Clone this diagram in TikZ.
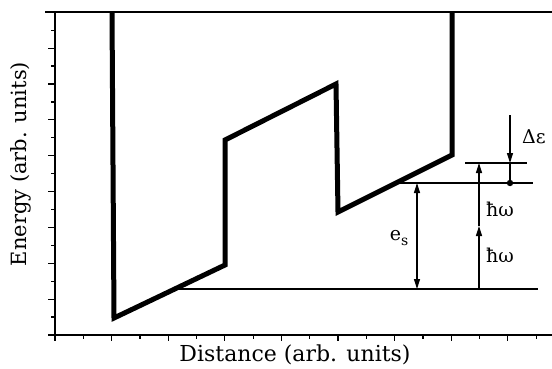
\documentclass[tikz,border=0pt]{standalone}
\usepackage{fontspec}
\setmainfont{DejaVu Serif}
\usetikzlibrary{arrows.meta}
\begin{document}
\begin{tikzpicture}[x=1pt,y=-1pt,
  pot/.style={line width=5pt, line join=miter},
  thin/.style={line width=1.2pt},
  arr/.style={-{Triangle[length=10pt,width=6pt]}},
  darr/.style={{Triangle[length=10pt,width=6pt]}-{Triangle[length=10pt,width=6pt]}},
  lbl/.style={inner sep=0pt, font=\fontsize{19}{22}\selectfont},
  axl/.style={inner sep=0pt, font=\fontsize{22}{26}\selectfont}]
\useasboundingbox (0,0) rectangle (552,368);
% frame and axes
\draw[thin] (45,12) -- (552,12);
\draw[thin] (55,12) -- (55,340);
\draw[thin] (50,335) -- (552,335);
\foreach \k in {0,...,18}{
  \pgfmathsetmacro\yy{335-17.93*\k}
  \pgfmathsetmacro\len{ifthenelse(mod(\k,2)==0,7,4)}
  \draw[thin] (55,\yy) -- ++(-\len,0);
}
\foreach \k in {0,...,17}{
  \pgfmathsetmacro\xx{55+28.3*\k}
  \pgfmathsetmacro\len{ifthenelse(mod(\k,2)==0,6,3.5)}
  \draw[thin] (\xx,335) -- ++(0,\len);
}
% potential profile
\coordinate (p0) at (112,12);
\coordinate (p1) at (114,318);
\coordinate (p2) at (225,265);
\coordinate (p3) at (225,140);
\coordinate (p4) at (336,84);
\coordinate (p5) at (338,212);
\coordinate (p6) at (452,155);
\coordinate (p7) at (452,12);
\draw[pot] (p0) -- (p1) -- (p2) -- (p3) -- (p4) -- (p5) -- (p6) -- (p7);
% levels
\coordinate (g0) at (175,289);
\coordinate (g1) at (538,289);
\coordinate (s0) at (399,183);
\coordinate (s1) at (533,183);
\coordinate (d0) at (465,163);
\coordinate (d1) at (527,163);
\draw[thin] (g0) -- (g1);
\draw[thin] (s0) -- (s1);
\draw[thin] (d0) -- (d1);
% delta epsilon
\coordinate (de0) at (510,115);
\coordinate (de1) at (510,163);
\coordinate (dot) at (510,183);
\draw[thin,arr] (de0) -- (de1);
\draw[thin] (de1) -- (dot);
\fill (dot) circle (3.2pt);
\node[lbl] (delab) at (534,137) {Δε};
% e_s
\coordinate (es0) at (417,183);
\coordinate (es1) at (417,289);
\draw[thin,darr] (es0) -- (es1);
\node[lbl] (eslab) at (399,238) {e\raisebox{-0.5ex}{\fontsize{14}{16}\selectfont s}};
% hbar omega
\coordinate (h0) at (479,289);
\coordinate (h1) at (479,226);
\coordinate (h2) at (479,163);
\draw[thin,arr] (h0) -- (h1);
\draw[thin,arr] (h1) -- (h2);
\node[lbl] (hw1) at (500,209) {ħω};
\node[lbl] (hw2) at (500,255) {ħω};
% axis labels
\node[axl] (xlab) at (295,355) {Distance (arb. units)};
\node[axl, rotate=90, font=\fontsize{21}{24}\selectfont] (ylab) at (21,164) {Energy (arb. units)};
\end{tikzpicture}
\end{document}
